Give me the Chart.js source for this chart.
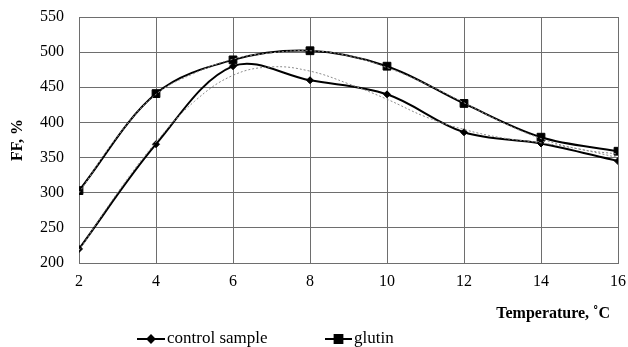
<!DOCTYPE html>
<html>
<head>
<meta charset="utf-8">
<script src="https://cdn.jsdelivr.net/npm/chart.js@4.4.1/dist/chart.umd.min.js"></script>
<style>
  html, body { margin: 0; padding: 0; background: #fff; }
  #wrap { width: 628px; height: 347px; position: relative; }
</style>
</head>
<body>
<div id="wrap"><canvas id="ff"></canvas></div>
<script>
var temps = [2, 4, 6, 8, 10, 12, 14, 16];
var control = [220, 369, 480, 460, 440, 386, 370, 345];
var glutin = [303, 441, 489, 502, 480, 427, 379, 359];

// trendlines
var trendTemps = [2, 3, 4, 5, 6, 7, 8, 9, 10, 11, 12, 13, 14, 15, 16];
var controlTrend = [218, 300, 372, 430, 467, 479, 473, 455, 433, 408, 390, 378, 371, 362, 350];
var glutinTrend = [300, 380, 440, 470, 490, 499, 502, 495, 478, 455, 428, 400, 377, 362, 355];

var yTicks = [200, 250, 300, 350, 400, 450, 500, 550];
var seriesNames = ['control sample', 'glutin'];

var serif = '"Liberation Serif", "Times New Roman", serif';

var pts = function(xs, ys){
  var out = [];
  for(var i=0; i < xs.length; i++){
    out.push({x: xs[i], y: ys[i]});
  }
  return out;
}

// legend + x title drawn by hand so they sit where the original has them
var extras = {
  id: 'extras',
  afterDraw: function(chart){
    var ctx = chart.ctx;
    var ca = chart.chartArea;
    ctx.save();
    ctx.fillStyle = '#000';
    ctx.font = 'bold 16px ' + serif;
    ctx.textAlign = 'right';
    ctx.textBaseline = 'middle';
    ctx.fillText('Temperature, \u02DAC', ca.right - 8, 314);

    var items = [
      {x0: 137, x1: 165, style: 'rectRot', r: 3.5, label: seriesNames[0]},
      {x0: 325, x1: 352, style: 'rect', r: 5.5, label: seriesNames[1]}
    ];
    var ly = 339;
    ctx.font = '17px ' + serif;
    ctx.textAlign = 'left';
    items.forEach(function(it){
      ctx.strokeStyle = '#000';
      ctx.lineWidth = 2;
      ctx.beginPath();
      ctx.moveTo(it.x0, ly);
      ctx.lineTo(it.x1, ly);
      ctx.stroke();
      Chart.helpers.drawPoint(ctx, {pointStyle: it.style, radius: it.r, borderWidth: 1, rotation: 0},
        (it.x0 + it.x1) / 2, ly);
      ctx.fillStyle = '#000';
      ctx.fill();
      ctx.fillText(it.label, it.x1 + 2, ly);
    });
    ctx.restore();
  }
};

var ctx = document.getElementById('ff');
new Chart(ctx, {
  type: 'line',
  data: {
    datasets: [
      {
        label: seriesNames[0] + ' trend',
        data: pts(trendTemps, controlTrend),
        borderColor: '#8a8a8a',
        borderWidth: 1,
        borderDash: [2, 2],
        pointRadius: 0,
        tension: 0.4,
        fill: false
      },
      {
        label: seriesNames[1] + ' trend',
        data: pts(trendTemps, glutinTrend),
        borderColor: '#8a8a8a',
        borderWidth: 1,
        borderDash: [2, 2],
        pointRadius: 0,
        tension: 0.4,
        fill: false
      },
      {
        label: seriesNames[0],
        data: pts(temps, control),
        borderColor: '#000',
        backgroundColor: '#000',
        borderWidth: 2,
        pointStyle: 'rectRot',
        pointRadius: 3.5,
        pointBorderWidth: 1,
        tension: 0.35,
        fill: false
      },
      {
        label: seriesNames[1],
        data: pts(temps, glutin),
        borderColor: '#000',
        backgroundColor: '#000',
        borderWidth: 2,
        pointStyle: 'rect',
        pointRadius: 5.5,
        pointBorderWidth: 1,
        tension: 0.35,
        fill: false
      }
    ]
  },
  plugins: [extras],
  options: {
    responsive: true,
    maintainAspectRatio: false,
    animation: false,
    layout: {padding: {left: 0, right: 10, top: 17, bottom: 24}},
    plugins: {
      legend: {display: false},
      tooltip: {enabled: false}
    },
    scales: {
      x: {
        type: 'linear',
        min: 2,
        max: 16,
        afterBuildTicks: function(scale){
          scale.ticks = temps.map(function(v){ return {value: v}; });
        },
        afterFit: function(scale){ scale.height = 60; },
        grid: {color: '#6e6e6e', lineWidth: 1, drawTicks: true, tickLength: 9, tickColor: 'rgba(0,0,0,0)'},
        border: {color: '#6e6e6e'},
        ticks: {color: '#000', font: {family: serif, size: 16}, padding: 0, maxRotation: 0}
      },
      y: {
        min: 200,
        max: 550,
        afterBuildTicks: function(scale){
          scale.ticks = yTicks.map(function(v){ return {value: v}; });
        },
        afterFit: function(scale){ scale.width = 79; },
        grid: {color: '#6e6e6e', lineWidth: 1, drawTicks: true, tickLength: 15, tickColor: 'rgba(0,0,0,0)'},
        border: {color: '#6e6e6e'},
        ticks: {color: '#000', font: {family: serif, size: 16}, padding: 0},
        title: {
          display: true,
          text: 'FF, %',
          color: '#000',
          font: {family: serif, size: 16, weight: 'bold'},
          padding: {top: 8, bottom: 0}
        }
      }
    }
  }
});
</script>
</body>
</html>
